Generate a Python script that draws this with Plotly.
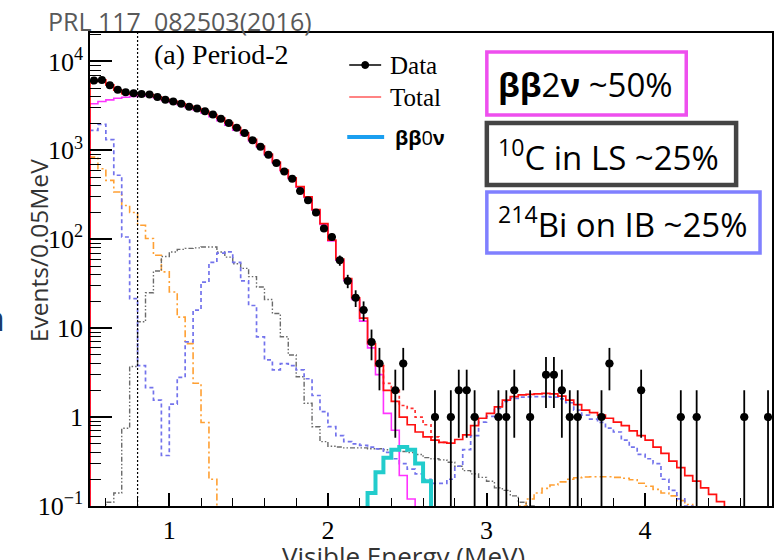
import plotly.graph_objects as go

# ---------------- data ----------------
BIN_WIDTH = 0.05
E_MIN, E_MAX = 0.5, 4.8
LOG_Y_MIN, LOG_Y_MAX = -1.0, 4.32
ANALYSIS_THRESHOLD = 0.8      # MeV, dotted vertical line
FLOOR = 1e-3                  # empty bins drawn below the axis

# data counts, bin centres 0.525 ... 4.775
data_counts = [6100, 6200, 5400, 4800, 4500, 4400, 4300, 4250, 3970, 3700,
               3550, 3350, 3100, 2950, 2750, 2530, 2270, 2030, 1800, 1570,
               1300, 1100, 890, 720, 580, 480, 350, 275, 200, 132,
               106, 58, 34, 22, 16, 7, 4, 0, 2, 4,
               0, 0, 0, 1, 0, 1, 2, 2, 1, 0,
               0, 1, 1, 2, 0, 1, 0, 3, 3, 2,
               1, 1, 0, 0, 1, 4, 0, 0, 0, 2,
               0, 0, 0, 0, 1, 0, 1, 0, 0, 0,
               0, 0, 1, 0, 0, 1]

total_start = 0.50
total_fit = [5950, 6200, 5450, 4750, 4350, 4300, 4260, 4250, 4000, 3750,
             3560, 3350, 3130, 2950, 2750, 2530, 2300, 2050, 1800, 1570,
             1330, 1120, 910, 740, 600, 490, 390, 300, 215, 150,
             98, 60, 36, 22, 13, 6.7, 3.8, 2.0, 1.5, 1.0,
             0.82, 0.68, 0.6, 0.55, 0.52, 0.51, 0.56, 0.63, 0.8, 0.97,
             1.1, 1.3, 1.55, 1.7, 1.78, 1.8, 1.82, 1.85, 1.82, 1.72,
             1.55, 1.38, 1.2, 1.12, 1.05, 0.97, 0.88, 0.8, 0.7, 0.62,
             0.55, 0.46, 0.39, 0.32, 0.27, 0.22, 0.19, 0.16, 0.135, 0.112]

total_0nu_start = 2.30
total_with_0nu = [3.8, 2.4, 2.0, 1.35, 1.25, 1.0, 0.82, 0.6, 0.52]

bb2nu_start = 0.50
bb2nu = [3350, 3550, 3700, 3850, 3950, 4050, 4100, 4120, 3890, 3640,
         3460, 3260, 3040, 2850, 2630, 2390, 2160, 1915, 1690, 1490,
         1275, 1083, 885, 722, 588, 481, 384, 296, 212, 147,
         96, 58, 34.5, 21, 12, 6.0, 3.0, 1.1, 0.71, 0.22,
         0.12]

bb0nu_start = 2.25
bb0nu = [0.14, 0.24, 0.35, 0.43, 0.46, 0.43, 0.30, 0.19]

bi214_start = 0.50
bi214_ib = [1680, 1960, 1320, 525, 106, 21.5, 3.8, 2.15, 1.55, 0.37,
            1.4, 2.8, 7, 16, 33, 55, 70, 72, 55, 34,
            18, 8, 4.4, 3.4, 4.0, 3.8, 3.4, 2.7, 1.75, 1.15,
            0.78, 0.62, 0.53, 0.5, 0.48, 0.46, 0.44, 0.4, 0.34, 0.3,
            0.26, 0.23, 0.2, 0.18, 0.18, 0.2, 0.28, 0.43, 0.62, 0.88,
            1.02, 1.25, 1.5, 1.62, 1.68, 1.69, 1.7, 1.7, 1.68, 1.6,
            1.45, 1.2, 1.05, 0.95, 0.87, 0.75, 0.68, 0.55, 0.46, 0.38,
            0.34, 0.3, 0.2, 0.15, 0.12, 0.1, 0.09]

c10_start = 0.60
c10_ls = [0.11, 0.14, 0.75, 3.7, 11.8, 25, 44, 64,
          72, 77, 79, 80, 82, 82, 72, 63, 53, 47,
          38, 29, 21, 14.6, 8, 5, 2.84, 1.43, 0.78, 0.53,
          0.47, 0.46, 0.45, 0.45, 0.45, 0.44, 0.44, 0.43, 0.42, 0.41,
          0.4, 0.38, 0.35, 0.34, 0.33, 0.31, 0.28, 0.25, 0.23, 0.21,
          0.19, 0.16, 0.15, 0.13, 0.11, 0.1]

other_low_start = 0.50
other_low = [840, 620, 460, 340, 240, 200, 144, 102, 66, 43, 25.5, 13.3, 6.7, 2.4, 0.87, 0.2]
other_high_start = 3.20
other_high = [0.1, 0.12, 0.14, 0.158, 0.172, 0.187, 0.2, 0.208, 0.212, 0.213, 0.213,
              0.213, 0.21, 0.205, 0.197, 0.18, 0.167, 0.154, 0.14, 0.13, 0.115, 0.104]

x_tick_vals = [1, 2, 3, 4]
y_tick_vals = [0.1, 1, 10, 100, 1000, 10000]
y_tick_text = ["10<sup>\u22121</sup>", "1", "10", "10<sup>2</sup>", "10<sup>3</sup>", "10<sup>4</sup>"]

# ---------------- helpers ----------------
W, H = 775, 560
ML, MR, MT, MB = 90, 1, 33, 54
PW, PH = W - ML - MR, H - MT - MB


def px_x(px):
    return (px - ML) / PW


def px_y(py):
    return (H - MB - py) / PH


def step_xy(start, values, drop=True):
    edges = [round(start + i * BIN_WIDTH, 4) for i in range(len(values) + 1)]
    ys = [max(v, FLOOR) for v in values]
    if drop:
        return [edges[0]] + edges[:-1] + [edges[-1]], [FLOOR] + ys + [FLOOR]
    return edges[:-1] + [edges[-1]], ys + [ys[-1]]


def hist_trace(start, values, color, width, dash="solid", drop=True):
    x, y = step_xy(start, values, drop)
    return go.Scatter(x=x, y=y, mode="lines", line=dict(color=color, width=width, dash=dash, shape="hv"),
                      hoverinfo="skip", showlegend=False)


fig = go.Figure()

# orange (other background) - two separate regions in one histogram
xl, yl = step_xy(other_low_start, other_low)
xh, yh = step_xy(other_high_start, other_high)
fig.add_trace(go.Scatter(x=xl + xh, y=yl + yh, mode="lines",
                         line=dict(color="#ffa033", width=1.6, dash="7px,3px,2px,3px", shape="hv"),
                         hoverinfo="skip", showlegend=False))
fig.add_trace(hist_trace(c10_start, c10_ls, "#6a6a6a", 1.4, "5px,2px,1.5px,2px,1.5px,2px"))
fig.add_trace(hist_trace(bi214_start, bi214_ib, "#7373ec", 1.7, "4px,3px"))
fig.add_trace(hist_trace(total_0nu_start, total_with_0nu, "#ff3030", 1.7, "3px,3px", drop=False))
fig.add_trace(hist_trace(bb2nu_start, bb2nu, "#ff33ff", 1.6))
fig.add_trace(hist_trace(total_start, total_fit, "#ff1010", 1.7))
fig.add_trace(hist_trace(bb0nu_start, bb0nu, "#22cccc", 4.0))

# data points with Poisson error bars (line segments separated by gaps)
centres = [round(E_MIN + BIN_WIDTH * (i + 0.5), 4) for i in range(len(data_counts))]
dx = [c for c, n in zip(centres, data_counts) if n > 0]
dy = [n for n in data_counts if n > 0]
ex, ey = [], []
for c, n in zip(dx, dy):
    err = n ** 0.5
    ex += [c, c, None, c - BIN_WIDTH / 2, c + BIN_WIDTH / 2, None]
    ey += [max(n - err, FLOOR), n + err, None, n, n, None]
fig.add_trace(go.Scatter(x=ex, y=ey, mode="lines", line=dict(color="black", width=1.8),
                         hoverinfo="skip", showlegend=False, connectgaps=False))
fig.add_trace(go.Scatter(x=dx, y=dy, mode="markers",
                         marker=dict(color="black", size=8, symbol="circle"),
                         hoverinfo="skip", showlegend=False))

# threshold line
fig.add_shape(type="line", xref="x", yref="paper", x0=ANALYSIS_THRESHOLD, x1=ANALYSIS_THRESHOLD, y0=0, y1=1,
              line=dict(color="black", width=1.2, dash="2px,2px"))

# boxes with percentages
boxes = [
    (488, 688, 52, 115, "#ee4fee", 3.5, "<b>\u03b2\u03b2</b>2<b>\u03bd</b> ~50%", 84),
    (488, 738, 123, 185, "#444444", 4.5, "<sup>10</sup>C in LS ~25%", 155),
    (488, 762, 192, 253, "#8080ff", 3.5, "<sup>214</sup>Bi on IB ~25%", 222),
]
for x0, x1, y0, y1, col, lw, txt, yc in boxes:
    fig.add_shape(type="rect", xref="paper", yref="paper", x0=px_x(x0), x1=px_x(x1), y0=px_y(y1), y1=px_y(y0),
                  line=dict(color=col, width=lw), fillcolor="white", layer="above")
    fig.add_annotation(xref="paper", yref="paper", x=px_x(497), y=px_y(yc), xanchor="left", yanchor="middle",
                       text=txt, showarrow=False, font=dict(family="Open Sans", size=33, color="black"))

# hand-made legend
serif = "Liberation Serif"
fig.add_shape(type="line", xref="paper", yref="paper", x0=px_x(350), x1=px_x(382), y0=px_y(65), y1=px_y(65),
              line=dict(color="black", width=1.5))
fig.add_shape(type="circle", xref="paper", yref="paper", x0=px_x(362.5), x1=px_x(369.5), y0=px_y(68.5), y1=px_y(61.5),
              line=dict(color="black", width=1), fillcolor="black")
fig.add_annotation(xref="paper", yref="paper", x=px_x(389), y=px_y(65), xanchor="left", yanchor="middle",
                   text="Data", showarrow=False, font=dict(family=serif, size=25, color="black"))
fig.add_shape(type="line", xref="paper", yref="paper", x0=px_x(350), x1=px_x(382), y0=px_y(97), y1=px_y(97),
              line=dict(color="#ff5a5a", width=1.5))
fig.add_annotation(xref="paper", yref="paper", x=px_x(389), y=px_y(97), xanchor="left", yanchor="middle",
                   text="Total", showarrow=False, font=dict(family=serif, size=25, color="black"))
fig.add_shape(type="line", xref="paper", yref="paper", x0=px_x(348), x1=px_x(385), y0=px_y(137), y1=px_y(137),
              line=dict(color="#1a9ff0", width=4))
fig.add_annotation(xref="paper", yref="paper", x=px_x(394), y=px_y(137), xanchor="left", yanchor="middle",
                   text="<b>\u03b2\u03b2</b>0<b>\u03bd</b>", showarrow=False,
                   font=dict(family="Open Sans", size=20, color="black"))

fig.add_annotation(xref="paper", yref="paper", x=px_x(152), y=px_y(55), xanchor="left", yanchor="middle",
                   text="(a) Period-2", showarrow=False, font=dict(family=serif, size=28, color="black"))

# outside texts
fig.add_annotation(xref="paper", yref="paper", x=px_x(46), y=px_y(21), xanchor="left", yanchor="middle",
                   text="PRL 117\u00a0 082503(2016)", showarrow=False,
                   font=dict(family="Open Sans", size=25, color="#595959"))
fig.add_annotation(xref="paper", yref="paper", x=px_x(38), y=px_y(251), xanchor="center", yanchor="middle",
                   text="Events/0.05MeV", textangle=-90, showarrow=False,
                   font=dict(family="Open Sans", size=24.5, color="#333333"))
fig.add_annotation(xref="paper", yref="paper", x=px_x(404), y=px_y(536), xanchor="center", yanchor="top",
                   text="Visible Energy (MeV)", showarrow=False,
                   font=dict(family="Open Sans", size=26, color="#333333"))
fig.add_annotation(xref="paper", yref="paper", x=px_x(7), y=px_y(318), xanchor="right", yanchor="middle",
                   text="n", showarrow=False, font=dict(family="Open Sans", size=34, color="#1b3a6b"))

minor_y = [m * 10 ** e for e in range(-1, 5) for m in range(2, 10)]
minor_x = [round(0.6 + 0.2 * i, 2) for i in range(22) if round(0.6 + 0.2 * i, 2) not in (1.0, 2.0, 3.0, 4.0)]

fig.update_layout(
    width=W, height=H, margin=dict(l=ML, r=MR, t=MT, b=MB),
    paper_bgcolor="white", plot_bgcolor="white", showlegend=False,
    xaxis=dict(type="linear", range=[E_MIN, E_MAX], showgrid=False, zeroline=False, showline=True,
               linecolor="black", linewidth=1.6, mirror=True, ticks="inside", ticklen=13, tickwidth=1.6,
               tickcolor="black", tickmode="array", tickvals=x_tick_vals, ticktext=[str(v) for v in x_tick_vals],
               tickfont=dict(family=serif, size=26, color="black"),
               minor=dict(tickmode="array", tickvals=minor_x, ticks="inside", ticklen=8, tickwidth=1.4,
                          tickcolor="black", showgrid=False)),
    yaxis=dict(type="log", range=[LOG_Y_MIN, LOG_Y_MAX], showgrid=False, zeroline=False, showline=True,
               linecolor="black", linewidth=1.6, mirror=True, ticks="inside", ticklen=22, tickwidth=1.6,
               tickcolor="black", tickmode="array", tickvals=y_tick_vals, ticktext=y_tick_text,
               tickfont=dict(family=serif, size=26, color="black"),
               minor=dict(tickmode="array", tickvals=minor_y, ticks="inside", ticklen=11, tickwidth=1.4,
                          tickcolor="black", showgrid=False)),
)

fig.write_html("out.html")
